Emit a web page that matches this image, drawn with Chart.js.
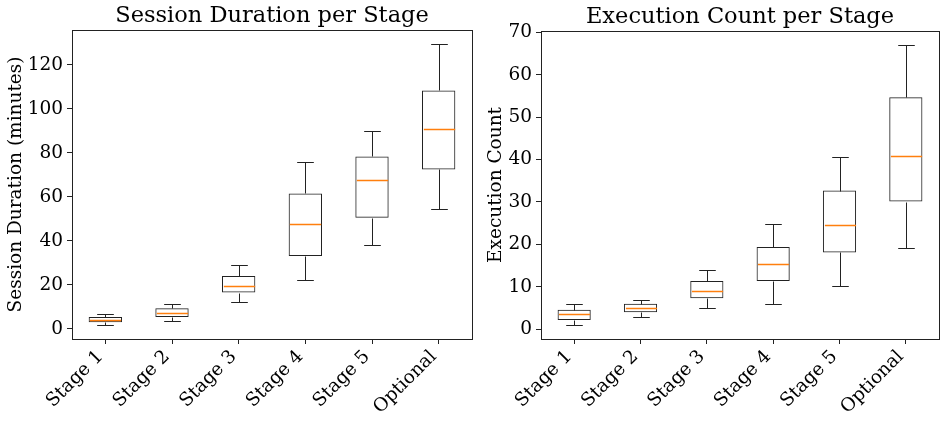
<!DOCTYPE html>
<html><head><meta charset="utf-8">
<script src="https://cdn.jsdelivr.net/npm/chart.js@4/dist/chart.umd.min.js"></script>
<style>
html,body{margin:0;padding:0;background:#fff;}
#wrap{position:relative;width:946px;height:424px;}
canvas{position:absolute;top:0;}
#c1{left:0;} #c2{left:473px;}
</style></head><body>
<div id="wrap"><canvas id="c1" width="473" height="424"></canvas><canvas id="c2" width="473" height="424"></canvas></div>
<script>
const stages = ['Stage 1','Stage 2','Stage 3','Stage 4','Stage 5','Optional'];
const durLow  = [1.7, 3.6, 12.2, 22.3, 38.2, 54.6];
const durQ1   = [2.9, 5.3, 16.4, 33.1, 50.4, 72.4];
const durMed  = [4.0, 7.3, 19.3, 47.5, 67.5, 90.8];
const durQ3   = [5.3, 9.3, 24.0, 61.5, 78.3, 108.3];
const durHigh = [6.7, 11.1, 28.9, 76.0, 89.7, 129.4];
const durTicks = [0, 20, 40, 60, 80, 100, 120];
const cntLow  = [1.0, 3.0, 5.0, 6.0, 10.1, 19.1];
const cntQ1   = [2.2, 4.0, 7.3, 11.4, 18.1, 30.1];
const cntMed  = [3.5, 5.0, 9.0, 15.4, 24.5, 40.8];
const cntQ3   = [4.6, 6.0, 11.4, 19.4, 32.7, 54.7];
const cntHigh = [6.0, 6.8, 14.0, 24.8, 40.7, 67.0];
const cntTicks = [0, 10, 20, 30, 40, 50, 60, 70];

const FONT = "'DejaVu Serif', 'Liberation Serif', serif";
const INK = '#222';

const boxPlugin = {
  id: 'boxParts',
  afterDatasetsDraw(chart, args, opts) {
    const ctx = chart.ctx;
    const xs = chart.scales.x, ys = chart.scales.y;
    const meta = chart.getDatasetMeta(0);
    ctx.save();
    opts.med.forEach((m, i) => {
      const x = Math.round(xs.getPixelForValue(i)) + 0.5;
      const w = meta.data[i].width;
      const py = v => Math.round(ys.getPixelForValue(v)) + 0.5;
      ctx.strokeStyle = INK;
      ctx.lineWidth = 1;
      ctx.beginPath();
      ctx.moveTo(x, py(opts.high[i])); ctx.lineTo(x, py(opts.q3[i]));
      ctx.moveTo(x, py(opts.q1[i])); ctx.lineTo(x, py(opts.low[i]));
      ctx.moveTo(x - w/4, py(opts.high[i])); ctx.lineTo(x + w/4, py(opts.high[i]));
      ctx.moveTo(x - w/4, py(opts.low[i])); ctx.lineTo(x + w/4, py(opts.low[i]));
      ctx.stroke();
      ctx.strokeStyle = '#ff7f0e';
      ctx.lineWidth = 1.3;
      ctx.beginPath();
      ctx.moveTo(x - w/2 + 1, py(m)); ctx.lineTo(x + w/2 - 1, py(m));
      ctx.stroke();
    });
    const a = chart.chartArea;
    ctx.strokeStyle = INK;
    ctx.lineWidth = 1;
    ctx.strokeRect(Math.round(a.left) + 0.5, Math.round(a.top) + 0.5, Math.round(a.right - a.left), Math.round(a.bottom - a.top));
    ctx.restore();
  }
};

function makeChart(id, title, ylabel, low, q1, med, q3, high, ticks, yWidth, padRight, titlePadTop, yTitlePad) {
  const D = Math.max(...high) - Math.min(...low);
  const ymin = Math.min(...low) - 0.05 * D;
  const ymax = Math.max(...high) + 0.05 * D;
  return new Chart(document.getElementById(id), {
    type: 'bar',
    data: {
      labels: stages,
      datasets: [{
        data: q1.map((v, i) => [v, q3[i]]),
        backgroundColor: 'rgba(255,255,255,0)',
        borderColor: INK,
        borderWidth: 1,
        borderSkipped: false,
        barPercentage: 0.5,
        categoryPercentage: 1.0
      }]
    },
    options: {
      responsive: false,
      animation: false,
      layout: { padding: { left: 0, right: padRight, top: 0, bottom: 0 } },
      plugins: {
        legend: { display: false },
        tooltip: { enabled: false },
        title: { display: true, fullSize: false, text: title, color: '#000', font: { family: FONT, size: 22.5, weight: 'normal' }, padding: { top: titlePadTop, bottom: 0 } },
        boxParts: { low, q1, med, q3, high }
      },
      scales: {
        x: {
          grid: { display: true, drawOnChartArea: false, drawTicks: true, tickLength: 5, color: INK, offset: false },
          border: { display: true, color: INK },
          ticks: { color: '#000', font: { family: FONT, size: 18.5 }, minRotation: 45, maxRotation: 45, padding: 2, labelOffset: -5 },
          afterFit(s) { s.height = 85; }
        },
        y: {
          min: ymin, max: ymax,
          grid: { display: true, drawOnChartArea: false, drawTicks: true, tickLength: 5, color: INK },
          border: { display: true, color: INK },
          ticks: { color: '#000', font: { family: FONT, size: 18.5 }, padding: 4 },
          afterBuildTicks(s) { s.ticks = ticks.map(v => ({ value: v })); },
          title: { display: true, text: ylabel, color: '#000', font: { family: FONT, size: 18.5 }, padding: { top: yTitlePad, bottom: 0 } },
          afterFit(s) { s.width = yWidth; }
        }
      }
    },
    plugins: [boxPlugin]
  });
}

makeChart('c1', 'Session Duration per Stage', 'Session Duration (minutes)', durLow, durQ1, durMed, durQ3, durHigh, durTicks, 72, 1, 3, 5);
makeChart('c2', 'Execution Count per Stage', 'Execution Count', cntLow, cntQ1, cntMed, cntQ3, cntHigh, cntTicks, 68, 7, 4, 12);
</script>
</body></html>
